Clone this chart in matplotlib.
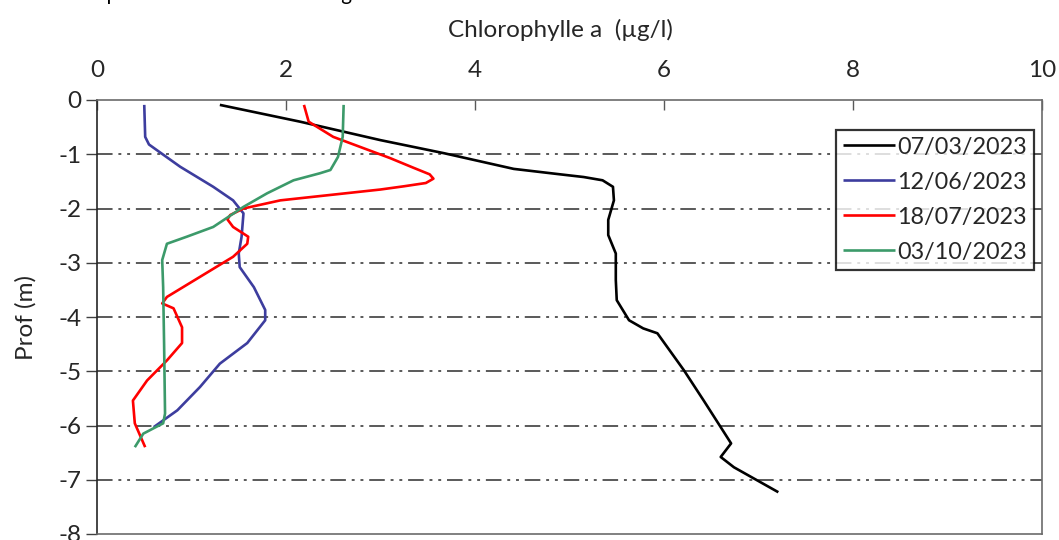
import matplotlib
matplotlib.use("Agg")
import matplotlib.pyplot as plt

plt.rcParams['font.family'] = ['Lato', 'DejaVu Sans']

# ---- data (Chlorophylle a in µg/l, depth in m) ----
labels = ["07/03/2023", "12/06/2023", "18/07/2023", "03/10/2023"]

chl_0703 = [1.30, 2.15, 3.00, 3.67, 4.41, 4.90, 5.15, 5.35, 5.46, 5.47, 5.41, 5.41, 5.49, 5.49,
            5.50, 5.63, 5.78, 5.93, 6.21, 6.42, 6.60, 6.71, 6.60, 6.74, 7.21]
dep_0703 = [-0.09, -0.40, -0.74, -0.98, -1.27, -1.37, -1.42, -1.48, -1.60, -1.85, -2.21, -2.49,
            -2.83, -3.32, -3.69, -4.06, -4.21, -4.30, -4.98, -5.54, -6.03, -6.33, -6.58, -6.77,
            -7.23]

chl_1206 = [0.50, 0.51, 0.55, 0.63, 0.88, 1.23, 1.44, 1.55, 1.53, 1.50, 1.51, 1.66, 1.78, 1.78,
            1.59, 1.30, 1.09, 0.85, 0.60]
dep_1206 = [-0.09, -0.68, -0.82, -0.92, -1.23, -1.60, -1.85, -2.09, -2.52, -2.83, -3.08, -3.45,
            -3.87, -4.06, -4.48, -4.86, -5.29, -5.72, -6.03]

chl_1807 = [2.19, 2.24, 2.50, 3.10, 3.35, 3.52, 3.56, 3.48, 3.25, 3.00, 1.94, 1.55, 1.41, 1.38,
            1.44, 1.60, 1.59, 1.44, 1.09, 0.74, 0.69, 0.81, 0.90, 0.90, 0.74, 0.53, 0.38, 0.40,
            0.51]
dep_1807 = [-0.09, -0.40, -0.68, -1.07, -1.25, -1.37, -1.45, -1.53, -1.59, -1.65, -1.85, -2.00,
            -2.12, -2.20, -2.34, -2.52, -2.65, -2.89, -3.26, -3.63, -3.75, -3.84, -4.19, -4.48,
            -4.80, -5.17, -5.54, -5.96, -6.40]

chl_0310 = [2.61, 2.60, 2.55, 2.47, 2.36, 2.08, 1.80, 1.55, 1.23, 0.95, 0.74, 0.69, 0.70, 0.71,
            0.72, 0.70, 0.60, 0.49, 0.40]
dep_0310 = [-0.09, -0.68, -1.05, -1.29, -1.35, -1.48, -1.72, -1.97, -2.34, -2.52, -2.65, -2.95,
            -3.45, -4.50, -5.78, -5.96, -6.05, -6.15, -6.40]

series_x = [chl_0703, chl_1206, chl_1807, chl_0310]
series_y = [dep_0703, dep_1206, dep_1807, dep_0310]
colors = ["#000000", "#3D3D9E", "#FF0000", "#3C9A6A"]

x_ticks = [0, 2, 4, 6, 8, 10]
y_ticks = [0, -1, -2, -3, -4, -5, -6, -7, -8]

W, H = 1059, 540
fig = plt.figure(figsize=(W / 100, H / 100), dpi=100)
ax = fig.add_axes([97 / W, 1 - 534 / H, (1042 - 97) / W, (534 - 100) / H])

for xs, ys, c, lab in zip(series_x, series_y, colors, labels):
    ax.plot(xs, ys, color=c, lw=1.9, label=lab, solid_joinstyle='round',
            solid_capstyle='butt', zorder=3)

ax.set_xlim(0, 10)
ax.set_ylim(-8, 0)
ax.set_xticks(x_ticks)
ax.set_yticks(y_ticks)
ax.set_yticklabels([str(v) for v in y_ticks])

FS = 17.5
ax.xaxis.tick_top()
ax.xaxis.set_label_position('top')
ax.tick_params(axis='x', direction='in', length=7, width=1, color='#595959',
               labelsize=FS, pad=14, labelcolor='#262626')
ax.tick_params(axis='y', direction='out', length=8, width=1, color='#404040',
               labelsize=FS, pad=3, labelcolor='#262626')

for v in y_ticks[1:-1]:
    ax.axhline(v, color='#595959', lw=1.4, dashes=(8, 3, 1.5, 3, 1.5, 3), zorder=1)

for s in ['top', 'bottom', 'right']:
    ax.spines[s].set_color('#6b6b6b')
    ax.spines[s].set_linewidth(1.2)
ax.spines['left'].set_color('#262626')
ax.spines['left'].set_linewidth(1.2)

ax.set_xlabel("Chlorophylle a  (µg/l)", fontsize=FS, color='#262626', labelpad=16)
ax.xaxis.label.set_x((560 - 97) / 945)
ax.set_ylabel("Prof (m)", fontsize=FS, color='#262626', labelpad=16)

leg = ax.legend(loc='upper right', bbox_to_anchor=(0.9916, 0.932), fontsize=16.8,
                frameon=True, fancybox=False, handlelength=2.2, handletextpad=0.12,
                borderpad=0.3, labelspacing=0.6, borderaxespad=0)
leg.get_frame().set_edgecolor('black')
leg.get_frame().set_linewidth(1.6)
for t in leg.get_texts():
    t.set_color('#262626')

# partially visible title (cut by the top edge in the reference)
title_txt = "Comparaison de la biomasse algale en 2023"
tfs = 22
renderer = fig.canvas.get_renderer()
def _w(s):
    t = fig.text(0, 0, s, fontsize=tfs)
    w = t.get_window_extent(renderer).width
    t.remove()
    return w
w_p = _w("Com")
w_pw = _w("p")
w_g = _w("Comparaison de la biomasse al")
gap = (w_g + _w("g") / 2) - (w_p + w_pw / 2)
tfs = tfs * 234.0 / gap
w_p = _w("Com") + _w("p") / 2
x0 = 112 - w_p
fig.text(x0 / W, 1 - 0.5 / H, title_txt, fontsize=tfs, color='black',
         va='baseline', ha='left')

fig.savefig("out.png", dpi=100)
